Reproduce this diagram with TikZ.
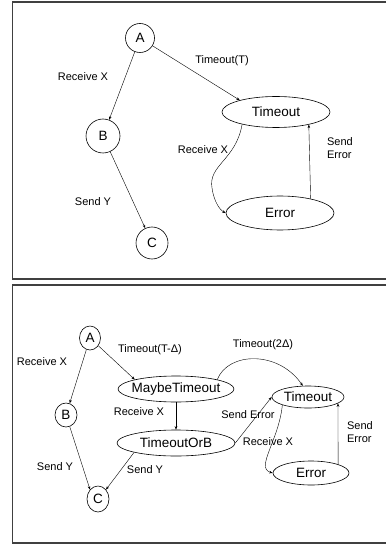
\documentclass[tikz,border=0pt]{standalone}
\usepackage{fontspec}
\setmainfont{Liberation Sans}
\usetikzlibrary{shapes.geometric,arrows.meta}
\begin{document}
\begin{tikzpicture}[x=1pt,y=-1pt,
  lbl/.style={inner sep=0pt, font=\fontsize{11}{13}\selectfont},
  state/.style={draw, ellipse, inner sep=0pt, line width=0.6pt, font=\fontsize{13.5}{15}\selectfont},
  edge/.style={line width=0.4pt, -{Stealth[length=3.5pt,width=2.6pt]}},
  frame/.style={line width=1.4pt, draw=black!75}]
\useasboundingbox (0,0) rectangle (386,545);
% frames
\draw[frame] (386,2) -- (12.5,2) -- (12.5,279) -- (386,279);
\draw[frame] (386,285) -- (12.5,285) -- (12.5,543) -- (386,543);

% ---------- top panel ----------
\node[state, minimum width=29pt, minimum height=29pt] (A) at (140,38) {\makebox[0pt]{A}};
\node[state, minimum width=34pt, minimum height=34pt] (B) at (103,136) {\makebox[0pt]{B}};
\node[state, minimum width=32pt, minimum height=32pt] (C) at (152,243) {\makebox[0pt]{C}};
\node[state, minimum width=108pt, minimum height=31pt] (T) at (276,112) {\makebox[0pt]{Timeout}};
\node[state, minimum width=108pt, minimum height=34pt] (E) at (280,213) {\makebox[0pt]{Error}};

\draw[edge] (A) -- (B);
\draw[edge] (A) -- (T.162);
\draw[edge] (B) -- (C);
\draw[edge] (T.200) .. controls (236,160) and (208,165) .. (212,188) .. controls (214,202) and (220,210) .. (E.west);
\draw[edge] (E.25) -- (T.339);

\node[lbl] (l1) at (83,77) {Receive X};
\node[lbl] (l2) at (222,61) {Timeout(T)};
\node[lbl] (l3) at (93,202) {Send Y};
\node[lbl] (l4) at (203,150) {Receive X};
\node[lbl, align=left] (l5) at (340,148) {Send\\Error};

% ---------- bottom panel ----------
\node[state, minimum width=21pt, minimum height=24pt] (A2) at (90,338) {\makebox[0pt]{A}};
\node[state, minimum width=22pt, minimum height=24pt] (B2) at (66,415) {\makebox[0pt]{B}};
\node[state, minimum width=22pt, minimum height=26pt] (C2) at (98,499) {\makebox[0pt]{C}};
\node[state, minimum width=116pt, minimum height=26pt] (MT) at (176,389) {\makebox[0pt]{MaybeTimeout}};
\node[state, minimum width=118pt, minimum height=26pt] (TB) at (176,443) {\makebox[0pt]{TimeoutOrB}};
\node[state, minimum width=72pt, minimum height=22pt] (T2) at (308,397) {\makebox[0pt]{Timeout}};
\node[state, minimum width=76pt, minimum height=24pt] (E2) at (311,473) {\makebox[0pt]{Error}};

\draw[edge] (A2) -- (B2);
\draw[edge] (A2) -- (MT.north west);
\draw[edge] (B2) -- (C2.north west);
\draw[edge] (MT.south) -- (TB.north);
\draw[edge] (TB.south west) -- (C2.north east);
\draw[edge] (MT.north east) .. controls (228,352) and (278,350) .. (T2.115);
\draw[edge] (TB.east) -- (T2.west);
\draw[edge] (T2.south west) .. controls (279,440) and (255,468) .. (E2.west);
\draw[edge] (E2.north east) -- (T2.-12);

\node[lbl] (m1) at (42,362) {Receive X};
\node[lbl] (m2) at (150,350) {Timeout(T-Δ)};
\node[lbl] (m3) at (263,345) {Timeout(2Δ)};
\node[lbl] (m4) at (139,412) {Receive X};
\node[lbl] (m5) at (248,415) {Send Error};
\node[lbl] (m6) at (268,442) {Receive X};
\node[lbl, align=left] (m7) at (360,432) {Send\\Error};
\node[lbl] (m8) at (55,467) {Send Y};
\node[lbl] (m9) at (145,470) {Send Y};
\end{tikzpicture}
\end{document}
